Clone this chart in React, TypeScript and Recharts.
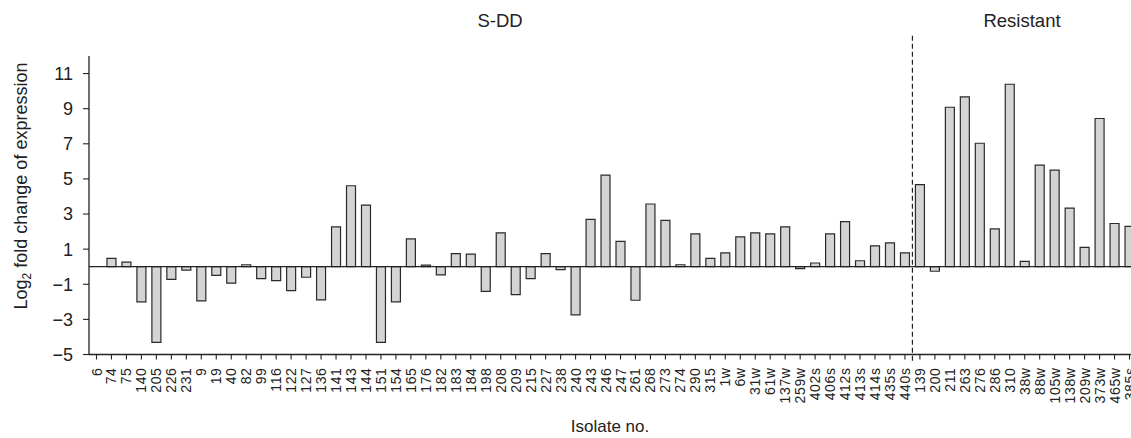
import React from 'react';
import { BarChart, Bar, XAxis, YAxis, ReferenceLine } from 'recharts';

const sddIsolates = [
  '6', '74', '75', '140', '205', '226', '231', '9', '19', '40',
  '82', '99', '116', '122', '127', '136', '141', '143', '144', '151',
  '154', '165', '176', '182', '183', '184', '198', '208', '209', '215',
  '227', '238', '240', '243', '246', '247', '261', '268', '273', '274',
  '290', '315', '1w', '6w', '31w', '61w', '137w', '259w', '402s', '406s',
  '412s', '413s', '414s', '435s', '440s',
];
const sddValues = [
  0, 0.47, 0.26, -2.0, -4.31, -0.72, -0.19, -1.95, -0.49, -0.94,
  0.11, -0.68, -0.79, -1.36, -0.6, -1.89, 2.27, 4.61, 3.51, -4.31,
  -2.0, 1.59, 0.09, -0.47, 0.74, 0.72, -1.4, 1.93, -1.59, -0.68,
  0.74, -0.17, -2.74, 2.7, 5.21, 1.44, -1.91, 3.57, 2.64, 0.11,
  1.87, 0.47, 0.79, 1.7, 1.93, 1.87, 2.27, -0.11, 0.21, 1.87,
  2.57, 0.34, 1.19, 1.36, 0.79,
];
const resistantIsolates = [
  '139', '200', '211', '263', '276', '286', '310', '38w', '88w', '105w',
  '138w', '209w', '373w', '465w', '385s',
];
const resistantValues = [
  4.68, -0.26, 9.08, 9.67, 7.03, 2.15, 10.39, 0.3, 5.78, 5.5,
  3.34, 1.1, 8.44, 2.46, 2.3,
];
const yTicks = [-5, -3, -1, 1, 3, 5, 7, 9, 11];
const groupLabels = ['S-DD', 'Resistant'];
const xTitle = 'Isolate no.';

const data = [
  ...sddIsolates.map((name, i) => ({ name, value: sddValues[i] })),
  ...resistantIsolates.map((name, i) => ({ name, value: resistantValues[i] })),
];

const FONT = "'Liberation Sans', Arial, Helvetica, sans-serif";
const INK = '#222';

const XTick = (props: any) => {
  const { x, y, payload } = props;
  return (
    <text
      x={x}
      y={y}
      transform={`rotate(-90, ${x}, ${y})`}
      textAnchor="end"
      dy="0.36em"
      fontSize={14}
      letterSpacing={0.6}
      fill={INK}
      fontFamily={FONT}
    >
      {payload.value}
    </text>
  );
};

const fmtY = (v: number) => (v < 0 ? '\u2212' + Math.abs(v) : String(v));

export default function App() {
  return (
    <div
      style={{
        position: 'absolute',
        left: 0,
        top: 0,
        width: 1131,
        height: 438,
        overflow: 'hidden',
        background: '#fff',
        fontFamily: FONT,
      }}
    >
      <BarChart
        width={1140}
        height={438}
        data={data}
        margin={{ top: 56, right: 3, bottom: 0, left: 0 }}
      >
        <XAxis
          dataKey="name"
          interval={0}
          height={83.5}
          tickSize={5}
          tickMargin={8}
          tick={<XTick />}
          axisLine={{ stroke: INK, strokeWidth: 1.3 }}
          tickLine={{ stroke: INK, strokeWidth: 1.1 }}
        />
        <YAxis
          width={89}
          domain={[-5, 12]}
          ticks={yTicks}
          interval={0}
          tickSize={6}
          tickMargin={10}
          tickFormatter={fmtY}
          tick={{ fontSize: 18, fill: INK, fontFamily: FONT }}
          axisLine={{ stroke: INK, strokeWidth: 1.3 }}
          tickLine={{ stroke: INK, strokeWidth: 1.1 }}
        />
        <ReferenceLine y={0} stroke={INK} strokeWidth={1.3} ifOverflow="visible" />
        <Bar
          dataKey="value"
          barSize={9}
          fill="#d4d4d4"
          stroke="#2a2a2a"
          strokeWidth={1.2}
          isAnimationActive={false}
        />
        <ReferenceLine
          segment={[
            { x: '139', y: 13.15 },
            { x: '139', y: -5.45 },
          ]}
          position="start"
          stroke={INK}
          strokeWidth={1.2}
          strokeDasharray="5 3"
          ifOverflow="visible"
        />
      </BarChart>
      <svg
        width={1131}
        height={438}
        style={{ position: 'absolute', left: 0, top: 0, pointerEvents: 'none' }}
      >
        <text x={500} y={27} textAnchor="middle" fontSize={18.5} fill={INK} fontFamily={FONT}>
          {groupLabels[0]}
        </text>
        <text x={1022} y={27} textAnchor="middle" fontSize={18.5} fill={INK} fontFamily={FONT}>
          {groupLabels[1]}
        </text>
        <text x={610} y={432} textAnchor="middle" fontSize={17} fill={INK} fontFamily={FONT}>
          {xTitle}
        </text>
        <text
          transform="translate(27,186) rotate(-90)"
          textAnchor="middle"
          fontSize={18}
          fill={INK}
          fontFamily={FONT}
        >
          Log
          <tspan fontSize={12} dy={4}>2</tspan>
          <tspan dy={-4}> fold change of expression</tspan>
        </text>
      </svg>
    </div>
  );
}
